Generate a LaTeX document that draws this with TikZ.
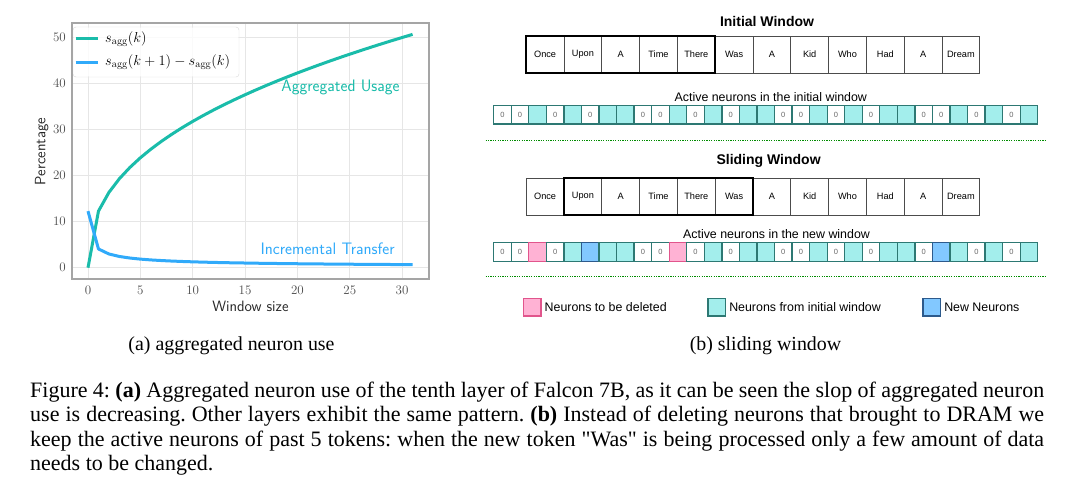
\documentclass[tikz,border=0pt]{standalone}
\usepackage{fontspec}
\usetikzlibrary{positioning}
\newfontfamily\arialfont{Liberation Sans}
\newfontfamily\timesfont{Liberation Serif}
\frenchspacing
\definecolor{myteal}{RGB}{26,188,170}
\definecolor{myblue}{RGB}{48,170,250}
\definecolor{mygrid}{RGB}{230,230,230}
\definecolor{myframe}{RGB}{165,165,165}
\definecolor{mycyan}{RGB}{163,238,236}
\definecolor{mycellline}{RGB}{45,120,115}
\definecolor{mypink}{RGB}{255,178,212}
\definecolor{mypinkline}{RGB}{225,85,140}
\definecolor{mynew}{RGB}{130,200,255}
\definecolor{mynewline}{RGB}{45,90,140}
\colorlet{mygreen}{green!55!black}

\tikzset{
  GridStyle/.style={draw=mygrid, line width=1pt},
  FrameStyle/.style={draw=myframe, line width=1.5pt},
  CurveStyle/.style={line width=3pt, line join=round},
  TickStyle/.style={inner sep=0, text=black!70, font=\fontsize{13}{15}\selectfont},
  AxisLabel/.style={inner sep=0, text=black!85, font=\sffamily\fontsize{15}{17}\selectfont},
  CurveLabel/.style={inner sep=0, font=\sffamily\fontsize{16.6}{19}\selectfont},
  LegendText/.style={anchor=west, inner sep=0, font=\fontsize{14.8}{17}\selectfont},
  TitleStyle/.style={inner sep=0, font=\arialfont\bfseries\fontsize{14}{16}\selectfont},
  LabelStyle/.style={inner sep=0, font=\arialfont\fontsize{12.4}{14}\selectfont},
  TokenStyle/.style={draw=black!70, line width=0.9pt, minimum width=37.8pt, minimum height=37pt,
    inner sep=0, outer sep=0, font=\arialfont\fontsize{9.2}{11}\selectfont},
  WindowStyle/.style={draw=black, line width=2pt},
  CellStyle/.style={draw=mycellline, line width=1.3pt, minimum width=17.55pt, minimum height=18.6pt,
    inner sep=0, outer sep=0, text=black!60, font=\arialfont\fontsize{7.5}{8}\selectfont},
  CellZ/.style={CellStyle, fill=white},
  CellO/.style={CellStyle, fill=mycyan},
  CellD/.style={CellStyle, fill=mypink, draw=mypinkline},
  CellN/.style={CellStyle, fill=mynew, draw=mynewline},
  LegendBox/.style={minimum size=17.5pt, inner sep=0, outer sep=0, line width=1.5pt},
  SepStyle/.style={draw=mygreen, line width=1pt, dash pattern=on 1.2pt off 1.2pt},
  SubCap/.style={anchor=base, inner sep=0, font=\timesfont\fontsize{19.9}{23}\selectfont},
  CapStyle/.style={anchor=base west, inner sep=0, font=\timesfont\fontsize{22}{24.2}\selectfont}
}

\begin{document}
\begin{tikzpicture}[x=1pt, y=-1pt]
\useasboundingbox[fill=white] (0,0) rectangle (1080,495);

% (a) aggregated neuron use
\draw[rounded corners=3pt, draw=black!15, fill=white] (73,27) rectangle (239,77);
\begin{scope}[shift={(88pt,-267.7pt)}, x=10.47pt, y=4.6pt]
\foreach \k in {0,5,...,30}
  \draw[GridStyle] (\k,-2.5) -- (\k,53.2);
\foreach \v in {0,10,...,50}
  \draw[GridStyle] (-1.53,\v) -- (32.55,\v);
\draw[FrameStyle] (-1.53,-2.5) rectangle (32.55,53.2);
\foreach \k in {0,5,...,30}
  \node[TickStyle, anchor=base] (xt\k) at (\k,-5.8) {\k};
\foreach \v in {0,10,...,50}
  \node[TickStyle, anchor=east] (yt\v) at (-2.1,\v) {\v};
\draw[CurveStyle, myteal] (0,0) -- plot[domain=1:31, samples=31] (\x,{12.3*\x^0.4126});
\draw[CurveStyle, myblue] (0,12.3) -- plot[domain=1:31, samples=31] (\x,{12.3*((\x+1)^0.4126-\x^0.4126)});
\node[CurveLabel, text=myteal] (aggLabel) at (24.12,39.22) {Aggregated Usage};
\node[CurveLabel, text=myblue] (incLabel) at (22.89,4.22) {Incremental Transfer};
\end{scope}
\fill[white, opacity=0.8, rounded corners=3pt] (73.7,27.7) rectangle (238.3,76.3);
\draw[CurveStyle, myteal] (75.5,39) -- (98.3,39);
\draw[CurveStyle, myblue] (75.5,62.3) -- (98.3,62.3);
\node[LegendText] (legAgg) at (105,39) {$s_{\mathrm{agg}}(k)$};
\node[LegendText] (legInc) at (105,62.3) {$s_{\mathrm{agg}}(k+1)-s_{\mathrm{agg}}(k)$};
\node[AxisLabel, rotate=90] (yLabel) at (41.7,151.7) {Percentage};
\node[AxisLabel] (xLabel) at (250.5,306) {Window size};

% (b) sliding window
\node[TitleStyle] (initTitle) at (767,21) {Initial Window};
\foreach \w [count=\i] in {Once,Upon,A,Time,There,Was,A,Kid,Who,Had,A,Dream}
  \node[TokenStyle] (it\i) at ({507.3+37.8*\i},54.5) {\w};
\draw[WindowStyle] (it1.north west) rectangle (it5.south east);
\node[LabelStyle] (initLabel) at (770.8,96.7) {Active neurons in the initial window};
\foreach \typ [count=\i from 0] in {Z,Z,O,Z,O,Z,O,O,Z,Z,O,Z,O,Z,O,O,Z,Z,O,Z,O,Z,O,O,Z,Z,O,Z,O,Z,O}
  \node[Cell\typ] (ia\i) at ({502.5+17.55*\i},114.7) {\if\typ Z0\fi};
\draw[SepStyle] (485.5,140) -- (1046,140);

\node[TitleStyle] (slideTitle) at (768.6,161) {Sliding Window};
\foreach \w [count=\i] in {Once,Upon,A,Time,There,Was,A,Kid,Who,Had,A,Dream}
  \node[TokenStyle] (st\i) at ({507.3+37.8*\i},196.5) {\w};
\draw[WindowStyle] (st2.north west) rectangle (st6.south east);
\node[LabelStyle] (newLabel) at (776.5,234.3) {Active neurons in the new window};
\foreach \typ [count=\i from 0] in {Z,Z,D,Z,O,N,O,O,Z,Z,D,Z,O,Z,O,O,Z,Z,O,Z,O,Z,O,O,Z,N,O,Z,O,Z,O}
  \node[Cell\typ] (na\i) at ({502.5+17.55*\i},252) {\if\typ Z0\fi};
\draw[SepStyle] (485.5,276) -- (1046,276);

% legend
\node[LegendBox, fill=mypink, draw=mypinkline] (legDel) at (532.2,307) {};
\node[LabelStyle, right=3.5pt of legDel] (legDelText) {Neurons to be deleted};
\node[LegendBox, fill=mycyan, draw=mycellline] (legOld) at (716.8,307) {};
\node[LabelStyle, right=3.5pt of legOld] (legOldText) {Neurons from initial window};
\node[LegendBox, fill=mynew, draw=mynewline] (legNew) at (931.8,307) {};
\node[LabelStyle, right=3.5pt of legNew] (legNewText) {New Neurons};

% captions
\node[SubCap] (capA) at (231.5,350) {(a) aggregated neuron use};
\node[SubCap] (capB) at (765.5,350) {(b) sliding window};
\node[CapStyle] (cap1) at (30,397.7) {\makebox[1014pt][s]{Figure 4: \textbf{(a)} Aggregated neuron use of the tenth layer of Falcon 7B, as it can be seen the slop of aggregated neuron}};
\node[CapStyle] (cap2) at (30,421.9) {\makebox[1014pt][s]{use is decreasing. Other layers exhibit the same pattern. \textbf{(b)} Instead of deleting neurons that brought to DRAM we}};
\node[CapStyle] (cap3) at (30,446.1) {\makebox[1014pt][s]{keep the active neurons of past 5 tokens: when the new token "Was" is being processed only a few amount of data}};
\node[CapStyle] (cap4) at (30,470.3) {needs to be changed.};
\end{tikzpicture}
\end{document}
